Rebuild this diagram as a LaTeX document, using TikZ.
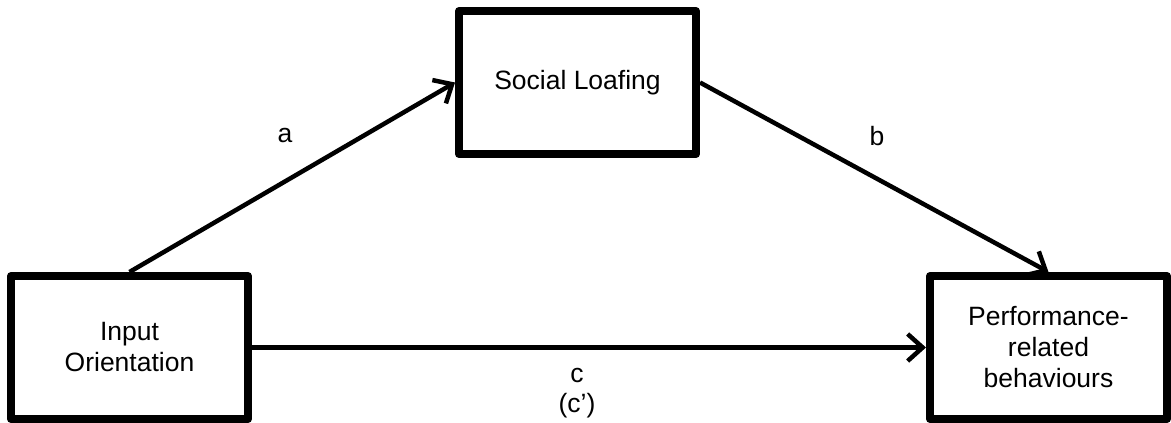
\documentclass[tikz,border=0pt]{standalone}
\usepackage{fontspec}
\setmainfont{Liberation Sans}
\usetikzlibrary{arrows.meta}
\begin{document}
\begin{tikzpicture}[x=1pt,y=-1pt,
  box/.style={draw, line width=8pt, line join=round, minimum width=237pt, minimum height=143pt, inner sep=0pt, align=center, font=\fontsize{26.5}{31}\selectfont},
  conn/.style={line width=4.5pt, -{Straight Barb[length=15pt,width=27pt]}},
  lbl/.style={align=center, inner sep=0pt, font=\fontsize{26.5}{30}\selectfont}]
\useasboundingbox (0,0) rectangle (1171,423);
\node[box] (io) at (129.5,347.5) {Input\\Orientation};
\node[box] (sl) at (577.5,82.5) {Social Loafing};
\node[box] (pb) at (1048.5,347.5) {Performance-\\related\\behaviours};
\draw[conn] (io.north) -- (sl.west);
\draw[conn] (sl.east) -- (pb.north);
\draw[conn] (io.east) -- (pb.west);
\node[lbl] (la) at (285,135) {a};
\node[lbl] (lb) at (877,136) {b};
\node[lbl] (lc) at (577,393) {c\\(c’)};
\end{tikzpicture}
\end{document}
